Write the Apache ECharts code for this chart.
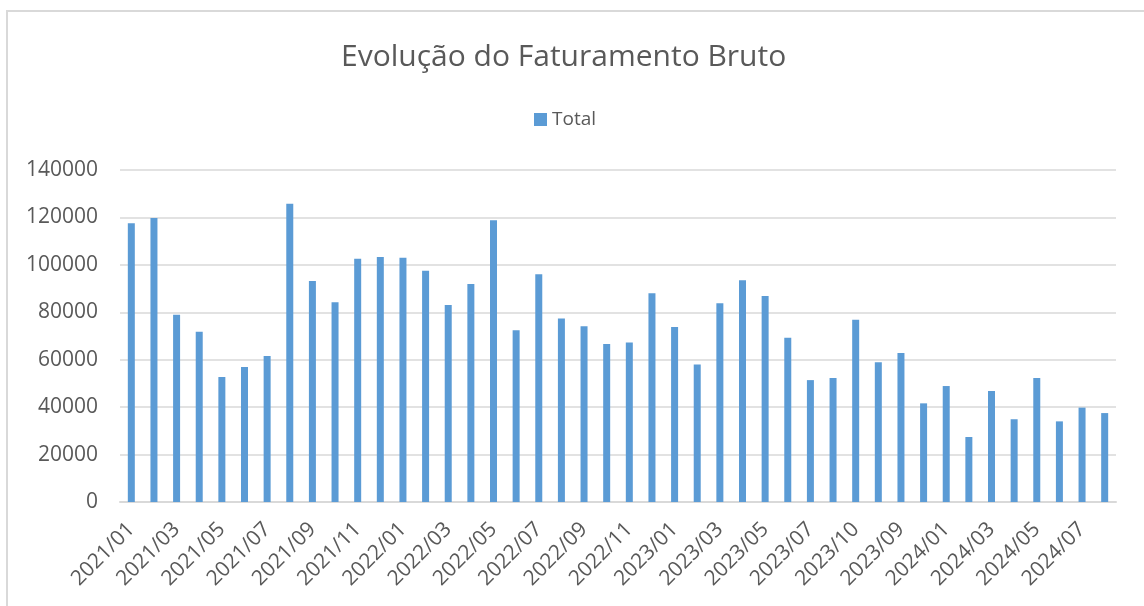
<!DOCTYPE html>
<html>
<head>
<meta charset="utf-8">
<script src="https://cdn.jsdelivr.net/npm/echarts@6/dist/echarts.min.js"></script>
<style>
  html, body { margin: 0; padding: 0; background: #fff; }
  #chart { width: 1144px; height: 606px; }
</style>
</head>
<body>
<div id="chart"></div>
<script>
const months = [
  '2021/01', '2021/02', '2021/03', '2021/04', '2021/05', '2021/06',
  '2021/07', '2021/08', '2021/09', '2021/10', '2021/11', '2021/12',
  '2022/01', '2022/02', '2022/03', '2022/04', '2022/05', '2022/06',
  '2022/07', '2022/08', '2022/09', '2022/10', '2022/11', '2022/12',
  '2023/01', '2023/02', '2023/03', '2023/04', '2023/05', '2023/06',
  '2023/07', '2023/08', '2023/10', '2023/11', '2023/09', '2023/12',
  '2024/01', '2024/02', '2024/03', '2024/04', '2024/05', '2024/06',
  '2024/07', '2024/08'
]

const total = [
  117500, 119800, 79000, 71800, 52700, 56900,
  61600, 125800, 93200, 84200, 102600, 103300,
  103000, 97500, 83100, 91900, 118800, 72400,
  96000, 77400, 74100, 66600, 67300, 88000,
  73800, 58000, 83800, 93500, 86900, 69300,
  51400, 52300, 76800, 58900, 62800, 41600,
  48900, 27400, 46800, 34900, 52300, 34000,
  39800, 37500
]

const yTicks = { min: 0, max: 140000, interval: 20000 }

const textColor = '#595959'
const gridColor = '#D9D9D9'
const font = 'Open Sans'

const myChart = echarts.init(document.getElementById('chart'))

const option = {
  animation: false,
  title: {
    text: 'Evolução do Faturamento Bruto',
    left: 336,
    top: 37,
    textStyle: {
      fontFamily: font,
      fontSize: 30,
      fontWeight: 'normal',
      color: textColor
    }
  },
  legend: {
    data: ['Total'],
    left: 529,
    top: 105,
    icon: 'rect',
    itemWidth: 13,
    itemHeight: 13,
    textStyle: {
      fontFamily: font,
      fontSize: 19,
      color: textColor
    }
  },
  graphic: [
    {
      type: 'rect',
      shape: { x: 7, y: 11, width: 1300, height: 800 },
      style: { fill: 'none', stroke: gridColor, lineWidth: 2 },
      silent: true
    }
  ],
  grid: {
    left: 120,
    right: 28,
    top: 170,
    bottom: 104,
    containLabel: false
  },
  xAxis: {
    type: 'category',
    data: months,
    axisTick: { show: false },
    axisLine: { lineStyle: { color: gridColor, width: 2 } },
    axisLabel: {
      interval: 1,
      rotate: 45,
      margin: 24,
      fontFamily: font,
      fontSize: 21,
      color: textColor
    }
  },
  yAxis: {
    type: 'value',
    min: yTicks.min,
    max: yTicks.max,
    interval: yTicks.interval,
    axisLine: { show: false },
    axisTick: { show: false },
    splitLine: { lineStyle: { color: gridColor, width: 1.5 } },
    axisLabel: {
      margin: 22,
      fontFamily: font,
      fontSize: 21,
      color: textColor,
      formatter: (v) => String(v)
    }
  },
  series: [
    {
      name: 'Total',
      type: 'bar',
      data: total,
      barWidth: 7,
      itemStyle: { color: '#5B9BD5' }
    }
  ]
}

myChart.setOption(option)
</script>
</body>
</html>
